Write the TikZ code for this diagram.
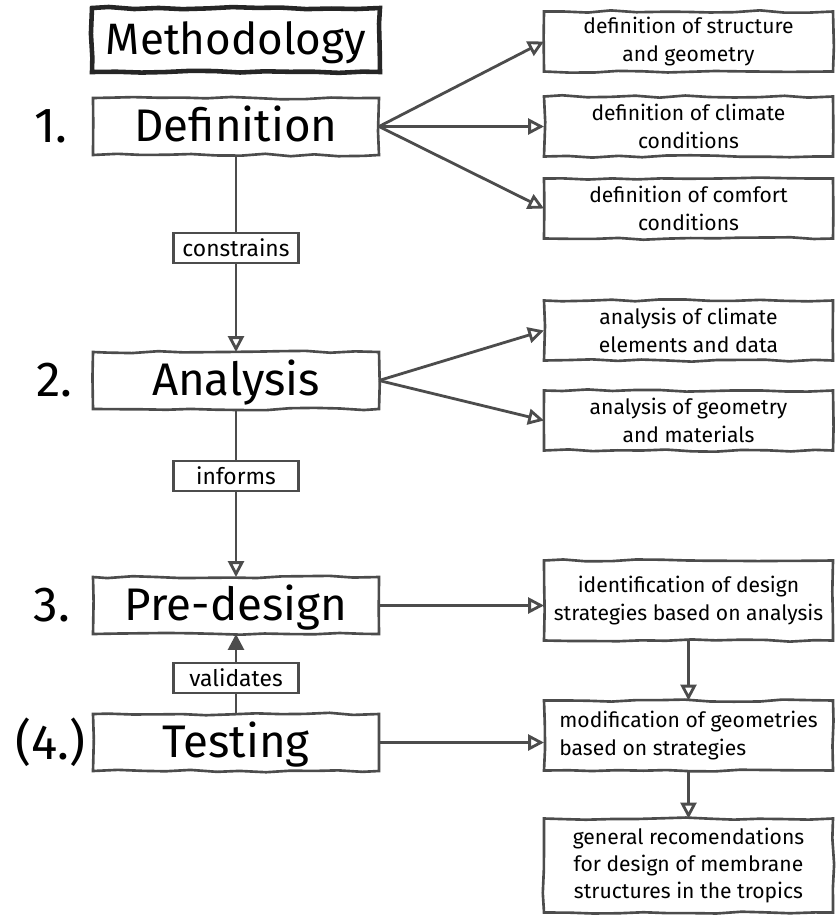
\documentclass[tikz,border=0pt]{standalone}
\usepackage{fontspec}
\setmainfont{Fira Sans}
\usetikzlibrary{arrows.meta, positioning, decorations.pathmorphing}

\begin{document}
\pgfmathsetseed{7}
\begin{tikzpicture}[
        node distance=0.5cm and 3.3cm,
        sketch/.style={decorate, decoration={random steps, segment length=14pt, amplitude=0.7pt}},
        title/.style={rectangle, draw=black!85, line width=2.6pt, sketch, inner sep=2pt, outer sep=0pt, minimum width=5.76cm, minimum height=1.28cm, text height=19pt, text depth=3pt, font=\fontsize{25}{30}\selectfont},
        stage/.style={rectangle, draw=black!70, line width=1.5pt, sketch, inner sep=2pt, outer sep=0pt, minimum width=5.72cm, minimum height=1.14cm, text height=20pt, text depth=3pt, font=\fontsize{26}{30}\selectfont},
        task/.style={rectangle, draw=black!70, line width=1.5pt, sketch, inner sep=2pt, outer sep=0pt, minimum width=5.78cm, minimum height=1.2cm, align=center, font=\fontsize{12}{15.5}\selectfont},
        lbl/.style={rectangle, draw=black!70, line width=1.2pt, fill=white, inner sep=2pt, minimum width=2.5cm, minimum height=0.6cm, font=\fontsize{13}{15}\selectfont},
        num/.style={inner sep=0pt, font=\fontsize{28}{32}\selectfont},
        arrow/.style={-{Triangle[open, length=9pt, width=9pt]}, line width=1.6pt, draw=black!70}
    ]
    \useasboundingbox (0,0) rectangle (16.7,-18.3);

    % main column
    \node (title) [title] at (4.72,-0.8) {Methodology};
    \node (defn) [stage, below=0.52cm of title] {Definition};
    \node (anal) [stage, below=3.94cm of defn] {Analysis};
    \node (pre) [stage, below=3.36cm of anal] {Pre-design};
    \node (test) [stage, below=1.6cm of pre] {Testing};

    \node (n1) [num, left=0.5cm of defn] {1.};
    \node (n2) [num, left=0.4cm of anal] {2.};
    \node (n3) [num, left=0.45cm of pre] {3.};
    \node (n4) [num, left=0.15cm of test] {(4.)};

    % right column
    \node (dclim) [task, right=3.3cm of defn] {definition of climate\\conditions};
    \node (dstruct) [task, above=0.5cm of dclim] {definition of structure\\and geometry};
    \node (dcomf) [task, below=0.44cm of dclim] {definition of comfort\\conditions};

    \node (aclim) [task, right=3.3cm of anal, yshift=1cm] {analysis of climate\\elements and data};
    \node (ageom) [task, below=0.6cm of aclim] {analysis of geometry\\and materials};

    \node (ident) [task, minimum height=1.6cm, right=3.3cm of pre, yshift=0.1cm] {identification of design\\strategies based on analysis};
    \node (modif) [task, minimum height=1.4cm, below=1.2cm of ident, align=left] {modification of geometries\\based on strategies\hspace{1.6em}};
    \node (general) [task, minimum height=1.88cm, below=0.96cm of modif] {general recomendations\\for design of membrane\\structures in the tropics};

    % connectors
    \draw [arrow] (defn.east) -- (dstruct.west);
    \draw [arrow] (defn.east) -- (dclim.west);
    \draw [arrow] (defn.east) -- (dcomf.west);
    \draw [arrow] (anal.east) -- (aclim.west);
    \draw [arrow] (anal.east) -- (ageom.west);
    \draw [arrow] (pre.east) -- (pre.east -| ident.west);
    \draw [arrow] (test.east) -- (test.east -| modif.west);
    \draw [arrow] (ident) -- (modif);
    \draw [arrow] (modif) -- (general);

    \draw [arrow] (defn) -- node[lbl, pos=0.47] (lconstr) {constrains} (anal);
    \draw [arrow] (anal) -- node[lbl, pos=0.4] (linform) {informs} (pre);
    \draw [arrow, -{Triangle[length=9pt, width=9pt]}] (test) -- node[lbl, pos=0.45] (lvalid) {validates} (pre);
\end{tikzpicture}
\end{document}
